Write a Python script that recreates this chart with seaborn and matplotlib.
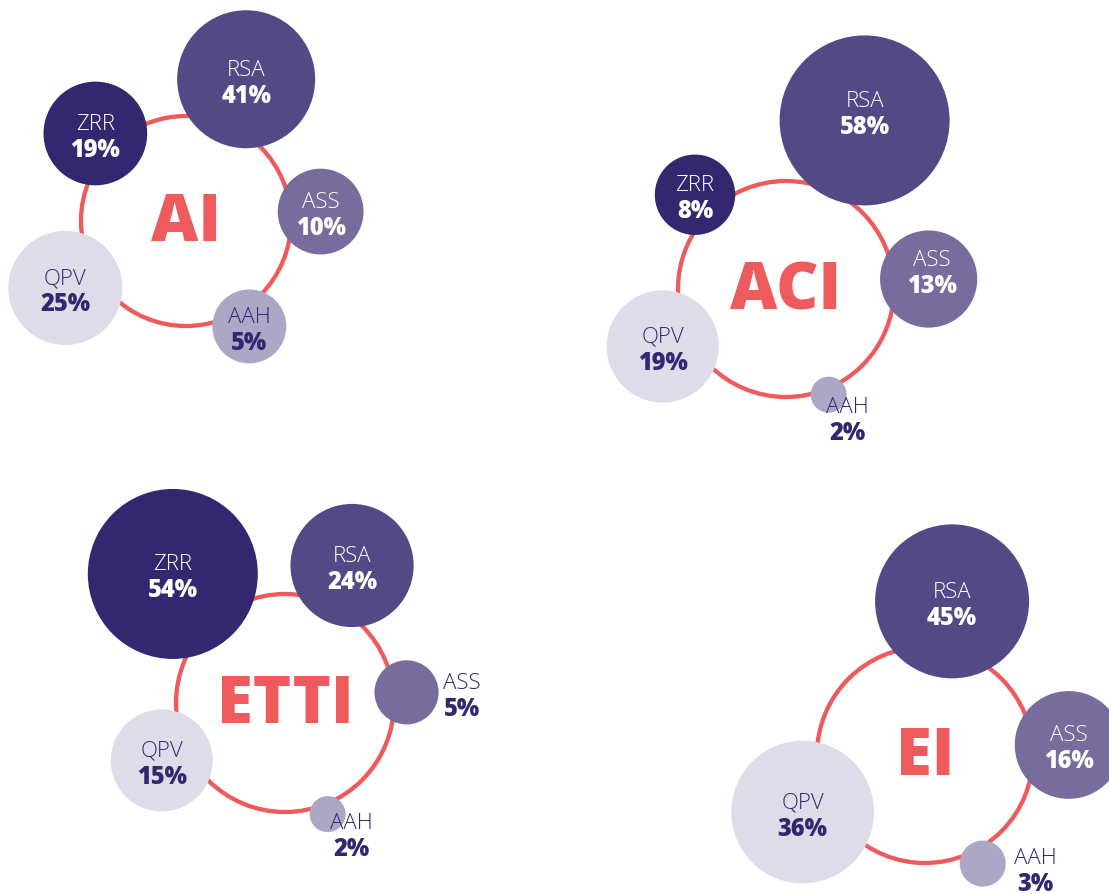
import matplotlib
matplotlib.use("Agg")
import matplotlib.pyplot as plt
from matplotlib.patches import Circle
from matplotlib.colors import PowerNorm
import numpy as np
import pandas as pd
import seaborn as sns

# ========================== Data ==================================
panels = ["AI", "ACI", "ETTI", "EI"]
categories = ["ZRR", "RSA", "ASS", "AAH", "QPV"]
ai_pct = [19, 41, 10, 5, 25]
aci_pct = [8, 58, 13, 2, 19]
etti_pct = [54, 24, 5, 2, 15]
ei_pct = [np.nan, 45, 16, 3, 36]   # EI has no ZRR bubble
panel_values = {"AI": ai_pct, "ACI": aci_pct, "ETTI": etti_pct, "EI": ei_pct}

# ========================== Layout (pixels, y down) ===============
W, H = 1109, 895
ring = {"AI": (186, 222, 105), "ACI": (786, 290, 108),
        "ETTI": (285, 704, 109), "EI": (925, 756, 108)}
# bubble spot: (angle in deg counter-clockwise from east, distance from ring centre)
spots = {
    "AI":   {"ZRR": (136, 126), "RSA": (67, 154), "ASS": (4, 135), "AAH": (-59, 123), "QPV": (-151, 138)},
    "ACI":  {"ZRR": (134, 131), "RSA": (65, 186), "ASS": (4, 143), "AAH": (-68, 114), "QPV": (-155, 136)},
    "ETTI": {"ZRR": (131, 171), "RSA": (64, 153), "ASS": (5, 122), "AAH": (-69, 119), "QPV": (-155, 136)},
    "EI":   {"RSA": (80, 156), "ASS": (4, 144), "AAH": (-62, 123), "QPV": (-155, 135)},
}
# bubble radius (px) for the smallest / largest value of each panel, and scale curvature
radius_range = {"AI": (37, 69), "ACI": (18, 85), "ETTI": (18, 85), "EI": (23, 77)}
size_gamma = {"AI": 1.0, "ACI": 0.75, "ETTI": 0.8, "EI": 0.7}
# label shifts from bubble centre; labels of tiny bubbles sit outside
label_shift = {("ACI", "RSA"): (0, -10), ("ACI", "ASS"): (3, -10),
               ("ACI", "AAH"): (19, 22), ("ETTI", "ASS"): (55, 0),
               ("ETTI", "AAH"): (24, 18), ("EI", "AAH"): (53, 4)}
outside = {("ACI", "AAH"), ("ETTI", "ASS"), ("ETTI", "AAH"), ("EI", "AAH")}

# ========================== Styles ================================
colors = {"ZRR": "#33286f", "RSA": "#524985", "ASS": "#776c9c",
          "AAH": "#ada7c6", "QPV": "#dfdcea"}
navy = "#33286f"
red = "#ef5a5c"
text_on = {"ZRR": "white", "RSA": "white", "ASS": "white", "AAH": navy, "QPV": navy}

sns.set_theme(style="white")
plt.rcParams["font.family"] = ["Open Sans", "DejaVu Sans"]

fig = plt.figure(figsize=(W / 100, H / 100), dpi=100)
ax = fig.add_axes([0, 0, 1, 1])

px2pt = 72 / 100

for panel in panels:
    cx, cy, R = ring[panel]
    df = pd.DataFrame({"cat": categories, "pct": panel_values[panel]}).dropna()
    ang = np.radians([spots[panel][c][0] for c in df["cat"]])
    dist = np.array([spots[panel][c][1] for c in df["cat"]])
    df["x"] = cx + dist * np.cos(ang)
    df["y"] = cy - dist * np.sin(ang)

    ax.add_patch(Circle((cx, cy), R, fill=False, ec=red, lw=3.1, zorder=1))

    rmin, rmax = radius_range[panel]
    norm = PowerNorm(size_gamma[panel], vmin=df["pct"].min(), vmax=df["pct"].max())
    sns.scatterplot(data=df, x="x", y="y", hue="cat", palette=colors,
                    size="pct", size_norm=norm,
                    sizes=((2 * rmin * px2pt) ** 2, (2 * rmax * px2pt) ** 2),
                    legend=False, linewidth=0, ax=ax, zorder=3)

    ax.text(cx, cy + 2, panel, color=red, fontsize=47, fontweight="heavy",
            ha="center", va="center", zorder=2)

    for _, row in df.iterrows():
        c = row["cat"]
        dx, dy = label_shift.get((panel, c), (0, 0))
        col = navy if (panel, c) in outside else text_on[c]
        tx, ty = row["x"] + dx, row["y"] + dy + 3
        ax.text(tx, ty - 13, c, color=col, fontsize=16, fontweight="light",
                ha="center", va="center", zorder=4)
        ax.text(tx, ty + 13, f"{int(row['pct'])}%", color=col, fontsize=17,
                fontweight="heavy", ha="center", va="center", zorder=4)

ax.set_xlim(0, W)
ax.set_ylim(H, 0)
ax.set_aspect("equal")
ax.axis("off")

fig.savefig("out.png", dpi=100, facecolor="white")
